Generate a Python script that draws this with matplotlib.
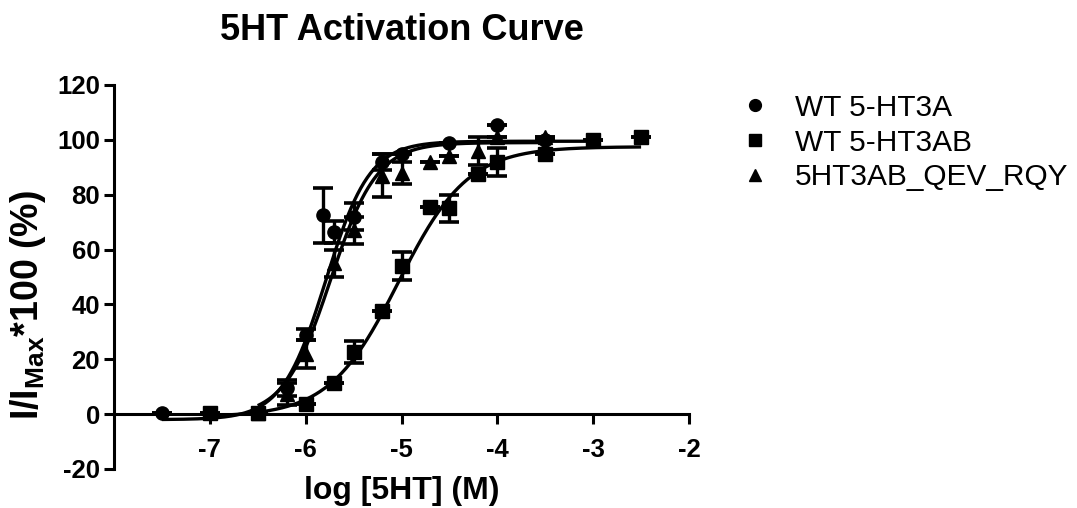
import numpy as np
import matplotlib
matplotlib.use("Agg")
import matplotlib.pyplot as plt
from matplotlib.lines import Line2D

plt.rcParams['font.family'] = ['Liberation Sans', 'DejaVu Sans']
plt.rcParams['mathtext.fontset'] = 'custom'
plt.rcParams['mathtext.rm'] = 'Liberation Sans'
plt.rcParams['mathtext.bf'] = 'Liberation Sans:bold'

# ---- measured responses (log molar concentration, % of max, SEM) ----
a_logc = [-7.5, -6.5, -6.2, -6.0, -5.82, -5.7, -5.5, -5.2, -5.0, -4.5, -4.0, -3.5]
a_resp = [0.5, 0.5, 9.5, 29.0, 72.5, 66.5, 72.0, 92.0, 94.8, 99.0, 105.5, 100.0]
a_sem = [0, 0, 3, 2, 10, 4, 5, 3, 0, 0, 0, 0]

ab_logc = [-7.0, -6.5, -6.0, -5.7, -5.5, -5.2, -5.0, -4.7, -4.5, -4.2, -4.0, -3.5, -3.0, -2.5]
ab_resp = [0.5, 0.5, 3.8, 11.2, 22.5, 37.5, 54.0, 75.5, 75.0, 87.5, 92.0, 95.0, 100.0, 101.0]
ab_sem = [0, 0, 0, 0, 4, 0, 5, 0, 5, 0, 5, 0, 0, 0]

q_logc = [-6.5, -6.2, -6.0, -5.7, -5.5, -5.2, -5.0, -4.7, -4.5, -4.2, -4.0, -3.5]
q_resp = [0.5, 7.5, 22.0, 55.0, 67.0, 87.0, 88.0, 92.0, 94.0, 96.0, 101.0, 101.0]
q_sem = [0, 4, 5, 5, 5, 8, 4, 0, 0, 5, 0, 0]

series_names = ["WT 5-HT3A", "WT 5-HT3AB", "5HT3AB_QEV_RQY"]

# ---- sigmoidal dose-response fits: bottom, top, logEC50, Hill slope, x-range ----
fit_a = (-2.0, 99.5, -5.79, 1.9, -7.5, -3.0)
fit_ab = (-1.0, 97.5, -5.03, 1.2, -7.0, -2.5)
fit_q = (-1.0, 99.0, -5.74, 1.8, -6.5, -3.5)

x_ticks = [-7, -6, -5, -4, -3, -2]
x_tick_labels = ["-7", "-6", "-5", "-4", "-3", "-2"]
y_ticks = [-20, 0, 20, 40, 60, 80, 100, 120]
y_tick_labels = ["-20", "0", "20", "40", "60", "80", "100", "120"]


def hill_curve(params):
    bottom, top, logec50, slope, lo, hi = params
    xs = np.linspace(lo, hi, 400)
    ys = bottom + (top - bottom) / (1 + 10 ** ((logec50 - xs) * slope))
    return xs, ys


W, H = 1077, 508
fig = plt.figure(figsize=(W / 100, H / 100), dpi=100)
ax = fig.add_axes([114 / W, 39 / H, 575 / W, 384 / H])

lw = 2.2
for params in (fit_ab, fit_q, fit_a):
    xs, ys = hill_curve(params)
    ax.plot(xs, ys, color='black', lw=2.4, solid_capstyle='butt', zorder=2)

common = dict(color='black', ls='none', ms=9.5, capsize=7, elinewidth=2.4,
              capthick=2.6, clip_on=False, zorder=3)
ax.errorbar(ab_logc, ab_resp, yerr=ab_sem, fmt='s', **common)
ax.errorbar(q_logc, q_resp, yerr=q_sem, fmt='^', **common)
ax.errorbar(a_logc, a_resp, yerr=a_sem, fmt='o', **common)

ax.set_xlim(-8, -2)
ax.set_ylim(-20, 120)
for side in ('top', 'right'):
    ax.spines[side].set_visible(False)
ax.spines['bottom'].set_position(('data', 0))
for side in ('left', 'bottom'):
    ax.spines[side].set_linewidth(lw)

ax.set_xticks(x_ticks)
ax.set_xticklabels(x_tick_labels, fontsize=18.5, fontweight='bold')
ax.set_yticks(y_ticks)
ax.set_yticklabels(y_tick_labels, fontsize=18.5, fontweight='bold')
ax.tick_params(axis='both', width=lw, length=7, direction='out')
ax.tick_params(axis='x', pad=10)
ax.tick_params(axis='y', pad=3)

fig.text(401.5 / W, 1 - 31 / H, "5HT Activation Curve", ha='center', va='center',
         fontsize=26, fontweight='bold')
fig.text(401.5 / W, 1 - 491 / H, "log [5HT] (M)", ha='center', va='center',
         fontsize=23, fontweight='bold')
fig.text(28 / W, 1 - 305 / H, r"I/I$_\mathbf{Max}$*100 (%)", ha='center', va='center',
         rotation=90, fontsize=27, fontweight='bold')

handles = [Line2D([], [], color='black', ls='none', marker=m, ms=8.5) for m in ('o', 's', '^')]
fig.legend(handles, series_names, loc='upper left', bbox_to_anchor=(728 / W, 1 - 82 / H),
           frameon=False, fontsize=21.5, handlelength=1.0, handletextpad=0.85,
           labelspacing=0.22, borderaxespad=0)

fig.savefig("out.png", dpi=100)
